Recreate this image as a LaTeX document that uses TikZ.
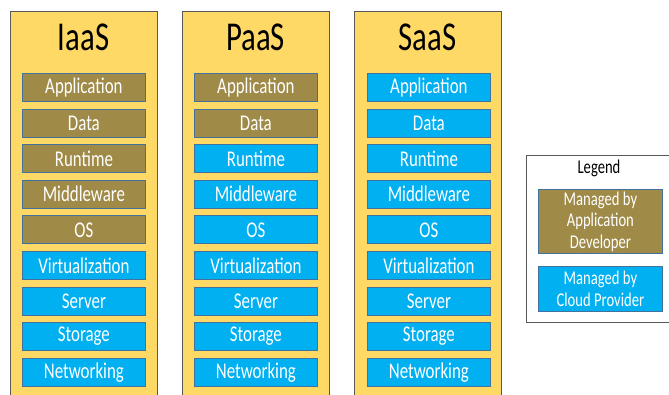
\documentclass[tikz,border=0pt]{standalone}
\usepackage{fontspec}
\setmainfont[FakeStretch=0.75]{Carlito}
\definecolor{colfill}{HTML}{FFD966}
\definecolor{colline}{HTML}{595959}
\definecolor{devbrown}{HTML}{A08A48}
\definecolor{cloudblue}{HTML}{00B0F0}
\definecolor{boxline}{HTML}{41719C}
\tikzset{
  column/.style={draw=colline, fill=colfill, line width=0.8pt},
  layer/.style={draw=boxline, line width=0.8pt, minimum width=123pt, minimum height=28pt, inner sep=0pt, text=white, font=\fontsize{22.5}{24}\selectfont, anchor=north west},
  dev/.style={layer, fill=devbrown},
  cloud/.style={layer, fill=cloudblue},
  ctitle/.style={font=\fontsize{41}{43}\selectfont, text=black},
  legendbox/.style={draw=colline, fill=white, line width=0.8pt},
}
\begin{document}
\begin{tikzpicture}[x=1pt,y=-1pt]
\useasboundingbox (0,0) rectangle (669,394);
\clip (0,0) rectangle (669,394);
% columns
\foreach \cx/\nm in {10/IaaS,182/PaaS,354/SaaS}{
  \draw[column] (\cx,11) rectangle ++(147,395);
}
\node[ctitle] (tI) at (83.5,37) {IaaS};
\node[ctitle] (tP) at (255.5,37) {PaaS};
\node[ctitle] (tS) at (427.5,37) {SaaS};
% IaaS
\node[dev] (i1) at (22,73) {Application};
\node[dev] (i2) at (22,108.6) {Data};
\node[dev] (i3) at (22,144.2) {Runtime};
\node[dev] (i4) at (22,179.8) {Middleware};
\node[dev] (i5) at (22,215.4) {OS};
\node[cloud] (i6) at (22,251) {Virtualization};
\node[cloud] (i7) at (22,286.6) {Server};
\node[cloud] (i8) at (22,322.2) {Storage};
\node[cloud] (i9) at (22,357.8) {Networking};
% PaaS
\node[dev] (p1) at (194,73) {Application};
\node[dev] (p2) at (194,108.6) {Data};
\node[cloud] (p3) at (194,144.2) {Runtime};
\node[cloud] (p4) at (194,179.8) {Middleware};
\node[cloud] (p5) at (194,215.4) {OS};
\node[cloud] (p6) at (194,251) {Virtualization};
\node[cloud] (p7) at (194,286.6) {Server};
\node[cloud] (p8) at (194,322.2) {Storage};
\node[cloud] (p9) at (194,357.8) {Networking};
% SaaS
\node[cloud] (s1) at (367,73) {Application};
\node[cloud] (s2) at (367,108.6) {Data};
\node[cloud] (s3) at (367,144.2) {Runtime};
\node[cloud] (s4) at (367,179.8) {Middleware};
\node[cloud] (s5) at (367,215.4) {OS};
\node[cloud] (s6) at (367,251) {Virtualization};
\node[cloud] (s7) at (367,286.6) {Server};
\node[cloud] (s8) at (367,322.2) {Storage};
\node[cloud] (s9) at (367,357.8) {Networking};
% legend
\draw[legendbox] (526,155) rectangle (672,322);
\node[font=\fontsize{19.5}{21}\selectfont] (lt) at (599,168) {Legend};
\node[layer, fill=devbrown, minimum width=124pt, minimum height=64pt, align=center, font=\fontsize{19.5}{21.5}\selectfont] (ld) at (538,189) {Managed by\\Application\\Developer};
\node[layer, fill=cloudblue, minimum width=124pt, minimum height=45pt, align=center, font=\fontsize{19.5}{21.5}\selectfont] (lc) at (538,266) {Managed by\\Cloud Provider};
\end{tikzpicture}
\end{document}
